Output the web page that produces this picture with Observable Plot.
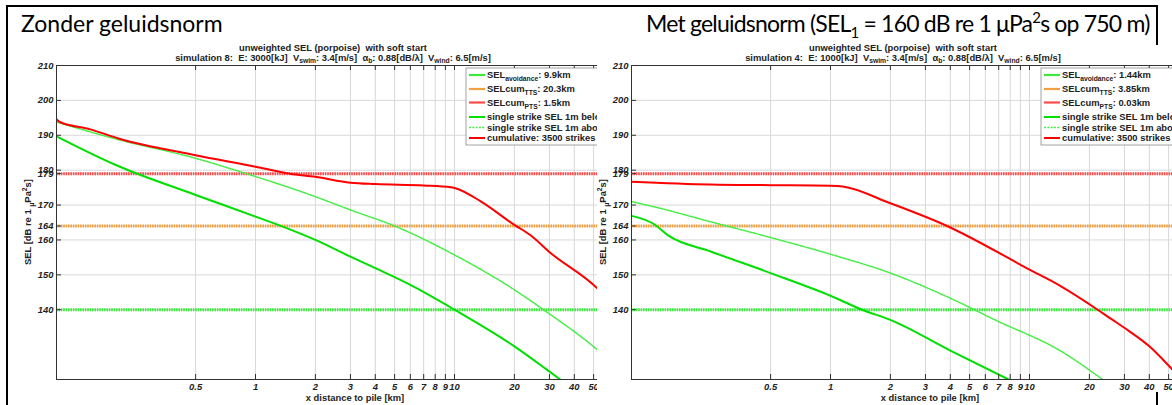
<!DOCTYPE html>
<html>
<head>
<meta charset="utf-8">
<script src="https://cdn.jsdelivr.net/npm/d3@7"></script>
<script src="https://cdn.jsdelivr.net/npm/@observablehq/plot@0.6"></script>
<style>
  body { margin: 0; background: #fff; }
  #page { position: relative; width: 1172px; height: 405px; overflow: hidden; background: #fff; }
  .heading { position: absolute; font-family: Lato, "Open Sans", sans-serif; font-size: 23px; line-height: 1; color: #000; white-space: nowrap; }
  .heading sub, .heading sup { font-size: 0.65em; line-height: 0; }
  .panel { position: absolute; top: 0; height: 405px; overflow: hidden; }
  .panel svg { max-width: none !important; display: block; }
  .rule { position: absolute; background: #000; }
</style>
</head>
<body>
<div id="page">
  <div class="panel" id="left" style="left:0px;width:597px"></div>
  <div class="panel" id="right" style="left:575px;width:597px"></div>
  <div class="heading" style="left:21px;top:12px">Zonder geluidsnorm</div>
  <div class="heading" style="left:646px;top:12px;letter-spacing:-0.8px">Met geluidsnorm (SEL<sub>1</sub> = 160 dB re 1 μPa<sup>2</sup>s op 750 m)</div>
  <div class="rule" style="left:6px;top:5px;width:2px;height:400px"></div>
  <div class="rule" style="left:6px;top:5px;width:1152px;height:2px"></div>
  <div class="rule" style="left:1156px;top:5px;width:2px;height:40px"></div>
  <div class="rule" style="left:1156px;top:392px;width:2px;height:13px"></div>
</div>
<script>
// axis ticks
const xTicks = [0.5, 1, 2, 3, 4, 5, 6, 7, 8, 9, 10, 20, 30, 40, 50];
const yTicks = [140, 150, 160, 164, 170, 179, 180, 190, 200, 210];

// threshold levels [dB]
const selAvoidance = 140;
const selCumTTS = 164;
const selCumPTS = 179;

// simulation 8: E 3000 kJ
const sim8CumKm = [0.1, 0.104, 0.148, 0.205, 0.5, 1, 1.49, 2, 3, 4, 7, 9.6, 10, 13.6, 20, 24, 30.5, 52, 55];
const sim8CumSel = [194.6, 193.8, 191.7, 189.1, 184.3, 181.0, 179.0, 178.1, 176.4, 176.0, 175.6, 175.1, 174.9, 171.0, 164.3, 161.4, 156.2, 146.2, 144.8];
const sim8BelowKm = [0.1, 0.2, 0.5, 1, 1.33, 2, 3, 4, 6, 10, 20, 29, 34];
const sim8BelowSel = [189.7, 181.4, 172.9, 166.7, 164.1, 160.0, 155.2, 151.9, 147.1, 140.0, 129.5, 122.9, 120.0];
const sim8AboveKm = [0.1, 0.2, 0.5, 0.9, 2, 3, 5, 10, 20, 28, 52, 55];
const sim8AboveSel = [193.8, 188.9, 183.4, 179.0, 172.4, 168.6, 164.0, 155.7, 145.7, 140.0, 128.6, 127.4];
const sim8Ranges = ["9.9km", "20.3km", "1.5km"];

// simulation 4: E 1000 kJ
const sim4CumKm = [0.1, 0.25, 0.5, 1, 1.15, 2, 3.85, 10, 14.4, 22, 25.5, 31.4, 40, 50, 55];
const sim4CumSel = [176.7, 175.9, 175.7, 175.5, 175.3, 170.5, 164.0, 151.5, 146.7, 140.0, 137.5, 134.0, 129.5, 124.0, 121.5];
const sim4BelowKm = [0.1, 0.13, 0.152, 0.25, 0.5, 1, 1.44, 2, 4, 7.85];
const sim4BelowSel = [166.9, 164.5, 161.4, 156.7, 150.5, 144.0, 140.0, 137.1, 128.3, 120.0];
const sim4AboveKm = [0.1, 0.13, 0.25, 0.5, 1, 2, 4, 6.7, 14.4, 23.3];
const sim4AboveSel = [171.0, 169.5, 165.2, 160.7, 155.9, 150.5, 143.3, 137.1, 128.1, 120.0];
const sim4Ranges = ["1.44km", "3.85km", "0.03km"];

const colors = {
  avoid: "#3be83b", tts: "#f0a040", pts: "#ff4a4a",
  below: "#00e000", above: "#44ee44", cum: "#ff0000",
  grid: "#d8d8d8", axis: "#333", text: "#222"
};
const FONT = 9.4;

const toRows = (km, sel) => km.map((k, i) => ({km: k, sel: sel[i]}));

// text with sub/superscript parts: [string, "sub" | "sup" | undefined]
function rich(textSel, parts) {
  let shift = 0;
  for (const [s, mode] of parts) {
    const target = mode === "sub" ? 2.8 : mode === "sup" ? -3.6 : 0;
    const t = textSel.append("tspan").attr("dy", target - shift).text(s);
    if (mode) t.attr("font-size", "0.72em");
    shift = target;
  }
}

function panel(el, cfg) {
  const W = 663, H = 405, ML = 56, MR = 10, MT = 65, MB = 26;
  const fw = W - ML - MR, fh = H - MT - MB;
  const tickText = {fontStyle: "italic", fontWeight: "bold", fill: colors.text};
  const svg = Plot.plot({
    width: W, height: H,
    marginLeft: ML, marginRight: MR, marginTop: MT, marginBottom: MB,
    style: {fontFamily: "'Liberation Sans', Arial, sans-serif", fontSize: FONT + "px", background: "transparent", overflow: "visible", maxWidth: "none"},
    x: {type: "log", domain: [0.1, 100], axis: null},
    y: {domain: [120, 210], axis: null},
    marks: [
      Plot.gridX(xTicks, {stroke: colors.grid, strokeOpacity: 1}),
      Plot.gridY(yTicks, {stroke: colors.grid, strokeOpacity: 1}),
      Plot.ruleY([selAvoidance], {stroke: colors.avoid, strokeWidth: 3, strokeDasharray: "1.6,0.8"}),
      Plot.ruleY([selCumTTS], {stroke: colors.tts, strokeWidth: 3, strokeDasharray: "1.6,0.8"}),
      Plot.ruleY([selCumPTS], {stroke: colors.pts, strokeWidth: 3, strokeDasharray: "1.6,0.8"}),
      Plot.line(toRows(cfg.aboveKm, cfg.aboveSel), {x: "km", y: "sel", stroke: colors.above, strokeWidth: 1.5, strokeDasharray: "2,1.3", curve: "monotone-x", clip: true}),
      Plot.line(toRows(cfg.belowKm, cfg.belowSel), {x: "km", y: "sel", stroke: colors.below, strokeWidth: 2, curve: "monotone-x", clip: true}),
      Plot.line(toRows(cfg.cumKm, cfg.cumSel), {x: "km", y: "sel", stroke: colors.cum, strokeWidth: 2, curve: "monotone-x", clip: true}),
      Plot.frame({stroke: colors.axis}),
      Plot.tickX(xTicks, {x: d => d, stroke: colors.axis, insetTop: fh - 5}),
      Plot.tickX(xTicks, {x: d => d, stroke: colors.axis, insetBottom: fh - 5}),
      Plot.tickY(yTicks, {y: d => d, stroke: colors.axis, insetRight: fw - 5}),
      Plot.text(xTicks, {x: d => d, text: d => String(d), frameAnchor: "bottom", lineAnchor: "top", dy: 4, ...tickText}),
      Plot.text(yTicks, {y: d => d, text: d => String(d), frameAnchor: "left", textAnchor: "end", dx: -3, ...tickText}),
      Plot.text(["x distance to pile [km]"], {frameAnchor: "bottom", dy: 21, fontWeight: "bold", fill: colors.text})
    ]
  });

  const g = d3.select(svg).append("g")
    .attr("font-family", "'Liberation Sans', Arial, sans-serif")
    .attr("font-weight", "bold").attr("font-size", FONT).attr("fill", colors.text);

  // two-line title
  g.append("text").attr("x", cfg.titleX).attr("y", 50.5).attr("text-anchor", "middle")
    .text("unweighted SEL (porpoise)  with soft start");
  rich(g.append("text").attr("x", cfg.titleX).attr("y", 60.5).attr("text-anchor", "middle").attr("xml:space", "preserve"), [
    [`simulation ${cfg.sim}:  E: ${cfg.energy}[kJ]  V`], ["swim", "sub"], [": 3.4[m/s]  α"], ["b", "sub"],
    [": 0.88[dB/λ]  V"], ["wind", "sub"], [": 6.5[m/s]"]
  ]);

  // y axis title
  rich(g.append("text").attr("transform", `translate(31,${MT + fh / 2}) rotate(-90)`).attr("text-anchor", "middle"), [
    ["SEL [dB re 1 "], ["μ", "sub"], ["Pa"], ["2", "sup"], ["s]"]
  ]);

  // legend
  const lx = ML + 410, ly = 68;
  const lg = g.append("g").attr("text-anchor", "start");
  lg.append("rect").attr("x", lx).attr("y", ly).attr("width", 200).attr("height", 77)
    .attr("fill", "#fff").attr("stroke", "#8c8c8c").attr("stroke-width", 0.8);
  const entries = [
    {y: 75, stroke: colors.avoid, w: 2.2, dash: null, parts: [["SEL"], ["avoidance", "sub"], [": " + cfg.ranges[0]]]},
    {y: 89, stroke: colors.tts, w: 2.2, dash: null, parts: [["SELcum"], ["TTS", "sub"], [": " + cfg.ranges[1]]]},
    {y: 102.5, stroke: colors.pts, w: 2.2, dash: null, parts: [["SELcum"], ["PTS", "sub"], [": " + cfg.ranges[2]]]},
    {y: 117, stroke: colors.below, w: 2, dash: null, parts: [["single strike SEL 1m below"]]},
    {y: 127.5, stroke: colors.above, w: 1.5, dash: "2,1.3", parts: [["single strike SEL 1m above"]]},
    {y: 138, stroke: colors.cum, w: 2, dash: null, parts: [[`cumulative: ${cfg.strikes} strikes`]]}
  ];
  for (const e of entries) {
    lg.append("line").attr("x1", lx + 3).attr("x2", lx + 19).attr("y1", e.y).attr("y2", e.y)
      .attr("stroke", e.stroke).attr("stroke-width", e.w).attr("stroke-dasharray", e.dash);
    rich(lg.append("text").attr("x", lx + 21).attr("y", e.y + 3.2), e.parts);
  }
  el.appendChild(svg);
}

panel(document.getElementById("left"), {
  sim: 8, energy: 3000, strikes: 3500, titleX: 333, ranges: sim8Ranges,
  cumKm: sim8CumKm, cumSel: sim8CumSel, belowKm: sim8BelowKm, belowSel: sim8BelowSel,
  aboveKm: sim8AboveKm, aboveSel: sim8AboveSel
});
panel(document.getElementById("right"), {
  sim: 4, energy: 1000, strikes: 3500, titleX: 328, ranges: sim4Ranges,
  cumKm: sim4CumKm, cumSel: sim4CumSel, belowKm: sim4BelowKm, belowSel: sim4BelowSel,
  aboveKm: sim4AboveKm, aboveSel: sim4AboveSel
});
</script>
</body>
</html>
